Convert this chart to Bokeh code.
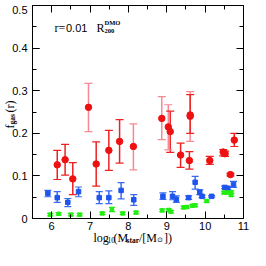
import math
from bokeh.plotting import figure
from bokeh.models import (ColumnDataSource, Whisker, TeeHead, Label, LinearAxis,
                          FixedTicker, Range1d)
from bokeh.embed import file_html
from bokeh.resources import INLINE

# ---------------- data ----------------
red_x = [6.145, 6.35, 6.55, 6.96, 7.16, 7.49, 7.77, 8.13, 8.87, 9.04, 9.09, 9.36, 9.59, 9.61, 9.61, 10.12, 10.47, 10.52, 10.66, 10.76]
red_y = [0.126, 0.138, 0.093, 0.261, 0.128, 0.160, 0.181, 0.169, 0.235, 0.215, 0.204, 0.149, 0.136, 0.243, 0.240, 0.136, 0.156, 0.152, 0.103, 0.184]
red_hi = [0.160, 0.174, 0.131, 0.317, 0.180, 0.207, 0.232, 0.222, 0.286, 0.267, 0.252, 0.177, 0.157, 0.298, 0.291, 0.146, 0.162, 0.158, 0.106, 0.200]
red_lo = [0.0915, 0.102, 0.056, 0.204, 0.076, 0.113, 0.130, 0.114, 0.185, 0.161, 0.155, 0.120, 0.116, 0.181, 0.200, 0.127, 0.147, 0.146, 0.100, 0.169]
red_light = [0, 0, 0, 1, 0, 0, 0, 1, 1, 1, 0, 0, 0, 1, 0, 0, 0, 0, 0, 0]

blue_x = [5.90, 6.145, 6.42, 6.70, 7.24, 7.49, 7.81, 8.14, 8.90, 9.15, 9.25, 9.57, 9.74, 9.86, 9.92, 10.17, 10.51, 10.59, 10.74]
blue_y = [0.059, 0.049, 0.038, 0.063, 0.049, 0.049, 0.066, 0.044, 0.052, 0.052, 0.045, 0.049, 0.085, 0.062, 0.052, 0.052, 0.073, 0.071, 0.080]
blue_hi = [0.066, 0.063, 0.047, 0.074, 0.063, 0.065, 0.084, 0.056, 0.060, 0.063, 0.053, 0.053, 0.099, 0.067, 0.055, 0.054, 0.076, 0.074, 0.087]
blue_lo = [0.051, 0.038, 0.028, 0.051, 0.035, 0.035, 0.046, 0.031, 0.045, 0.044, 0.038, 0.045, 0.069, 0.056, 0.049, 0.050, 0.070, 0.068, 0.073]

green_x = [5.96, 6.18, 6.50, 6.73, 7.32, 7.57, 7.85, 8.20, 8.88, 9.05, 9.11, 9.44, 9.52, 9.67, 9.74, 10.04, 10.49, 10.57, 10.68, 10.68]
green_y = [0.009, 0.011, 0.009, 0.009, 0.012, 0.021, 0.012, 0.014, 0.019, 0.020, 0.016, 0.026, 0.027, 0.030, 0.031, 0.041, 0.061, 0.061, 0.062, 0.055]
green_hi = [0.012, 0.014, 0.012, 0.012, 0.015, 0.026, 0.015, 0.017, 0.022, 0.023, 0.019, 0.029, 0.030, 0.033, 0.034, 0.044, 0.064, 0.064, 0.065, 0.058]
green_lo = [0.006, 0.008, 0.006, 0.006, 0.009, 0.016, 0.009, 0.011, 0.016, 0.017, 0.013, 0.023, 0.024, 0.027, 0.028, 0.038, 0.058, 0.058, 0.059, 0.052]

x_major_ticks = [6, 7, 8, 9, 10, 11]
x_minor_ticks = [5.5, 6.5, 7.5, 8.5, 9.5, 10.5]
y_major_ticks = [0, 0.1, 0.2, 0.3, 0.4, 0.5]
y_minor_ticks = [0.05, 0.15, 0.25, 0.35, 0.45]
y_tick_labels = ["0", "0.1", "0.2", "0.3", "0.4", "0.5"]

# ---------------- layout (page pixels) ----------------
W, H = 250, 250
C0 = 8                         # canvas origin on the page
L, R, T, B = 40, 251, 13, 226  # axes box on the page
X0, X1 = 5.5, 11.0
Y0, Y1 = 0.0, 0.5
sx = (R - L) / (X1 - X0)
sy = (B - T) / (Y1 - Y0)

def px2x(px):
    return X0 + (px - L) / sx

def px2y(py):
    return Y0 + (B - py) / sy

p = figure(width=W, height=H, output_backend="svg", toolbar_location=None,
           x_range=Range1d(px2x(C0), px2x(C0 + W)),
           y_range=Range1d(px2y(C0 + H), px2y(C0)),
           min_border=0, x_axis_location=None, y_axis_location=None)
p.grid.visible = False
p.outline_line_color = None

TICK_FONT = "Liberation Sans"

def make_axis(loc, bounds, ticks, minor, labels):
    ax = LinearAxis(ticker=FixedTicker(ticks=ticks, minor_ticks=minor),
                    fixed_location=loc, bounds=bounds)
    ax.axis_line_color = "black"
    ax.axis_line_width = 1
    ax.major_tick_in = 7
    ax.major_tick_out = 0
    ax.minor_tick_in = 4
    ax.minor_tick_out = 0
    ax.major_tick_line_color = "black"
    ax.minor_tick_line_color = "black"
    ax.major_label_text_font = TICK_FONT
    ax.major_label_text_font_size = "11px"
    ax.major_label_text_color = "black" if labels else None
    return ax

# the labelled y axis carries all but the topmost tick label (which would touch
# the canvas edge and be dropped); that one is drawn as a Label just below it
xb = make_axis(Y0, (X0, X1), x_major_ticks, x_minor_ticks, True)
xt = make_axis(Y1, (X0, X1), x_major_ticks, x_minor_ticks, False)
yl = make_axis(X0, (Y0, Y1), y_major_ticks[:-1], y_minor_ticks, True)
yr = make_axis(X1, (Y0, Y1), y_major_ticks, y_minor_ticks, False)
yl2 = make_axis(X0, (Y0, Y1), y_major_ticks, [], False)
xb.major_label_standoff = 3
yl.major_label_standoff = 5
yl.major_label_overrides = {t: s for t, s in zip(y_major_ticks, y_tick_labels)}
p.add_layout(xb, "below")
p.add_layout(xt, "above")
p.add_layout(yl, "left")
p.add_layout(yl2, "left")
p.add_layout(yr, "right")
p.add_layout(Label(x=px2x(L - 5), y=px2y(T + 4), text=y_tick_labels[-1], text_font=TICK_FONT,
                   text_font_size="11px", text_color="black", text_align="right",
                   text_baseline="middle"))

RED = "#ee1111"
RED_ERR = ["#ee2222", "#f58a95"]
BLUE = "#1f55ee"
BLUE_ERR = "#3a6cf0"
GREEN = "#22ee11"

def series(xs, ys, lo, hi, color, ecolors, marker, size, head):
    src = ColumnDataSource(dict(x=xs, y=ys, lo=lo, hi=hi, ec=ecolors))
    w = Whisker(base="x", upper="hi", lower="lo", source=src, dimension="height",
                line_color="ec", line_width=1.5,
                upper_head=TeeHead(size=head, line_color="ec", line_width=1.2),
                lower_head=TeeHead(size=head, line_color="ec", line_width=1.2))
    p.add_layout(w)
    p.scatter("x", "y", source=src, marker=marker, size=size,
              fill_color=color, line_color=color)

series(red_x, red_y, red_lo, red_hi, RED, [RED_ERR[k] for k in red_light], "circle", 6.5, 8)
series(blue_x, blue_y, blue_lo, blue_hi, BLUE, [BLUE_ERR] * len(blue_x), "square", 4.5, 7)
series(green_x, green_y, green_lo, green_hi, GREEN, [GREEN] * len(green_x), "square", 3.5, 6)

SERIF = "Liberation Serif"

def lab(text, px, py, size, font=SERIF, angle=0.0, style="normal"):
    p.add_layout(Label(x=px2x(px), y=px2y(py), text=text, text_font=font,
                       text_font_size=f"{size}px", text_color="black",
                       text_align="left", text_baseline="alphabetic",
                       angle=angle, text_font_style=style))

# x-axis label: log10(Mstar/[M_sun])
lab("log", 101, 245, 12)
lab("10", 115, 247.5, 7.5)
lab("(M", 121, 245, 12)
lab("star", 134, 247.5, 7.5, style="bold")
lab("/[M", 146.5, 245, 12)
lab("\u2299", 164.5, 247.5, 7, font="DejaVu Sans")
lab("])", 171.5, 245, 12)

# y-axis label: f_gas(r), rotated
lab("f", 17, 136, 12, angle=math.pi / 2)
lab("gas", 20, 132, 7.5, angle=math.pi / 2, style="bold")
lab("(r)", 17, 120, 12, angle=math.pi / 2)

# annotation r=0.01 R_200^DMO
lab("r=", 62, 35, 12)
lab("0.01", 73.5, 35, 11, font=TICK_FONT)
lab("R", 104, 35, 12)
lab("DMO", 112, 30, 6.5, style="bold")
lab("200", 112, 38, 6.5, style="bold")

open("out.html", "w").write(file_html(p, INLINE))
